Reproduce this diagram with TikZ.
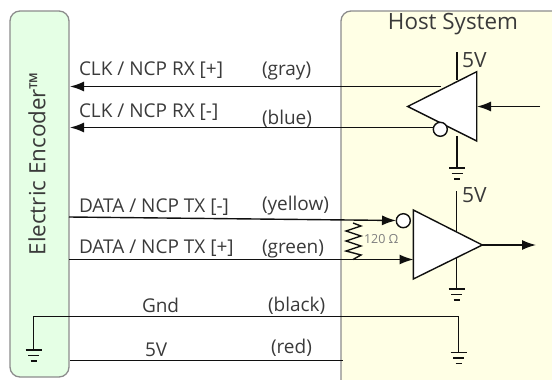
\documentclass[tikz,border=0pt]{standalone}
\usepackage{fontspec}
\setmainfont{Open Sans}
\usetikzlibrary{arrows.meta}
\definecolor{txt}{HTML}{3A3A3A}
\definecolor{wirec}{HTML}{101010}
\definecolor{pane}{HTML}{8C8C8C}
\definecolor{pgreen}{HTML}{E5FFE5}
\definecolor{pyellow}{HTML}{FFFFE5}
\tikzset{
  x=1pt,y=-1pt,
  every node/.style={inner sep=0pt,outer sep=0pt,text=txt},
  lab/.style={anchor=west,font=\fontsize{19}{22}\selectfont},
  wire/.style={draw=wirec,line width=1.4pt},
  arrowed/.style={wire,-{Latex[length=14pt,width=10pt]}},
  gate/.style={draw=wirec,fill=white,line width=1.4pt,line join=miter},
  bubble/.style={circle,draw=wirec,fill=white,line width=1.4pt,minimum size=14pt},
  gndl/.style={draw=wirec,line width=1.4pt},
  panelA/.style={draw=pane,line width=1.3pt,rounded corners=10pt,fill=pgreen},
  panelB/.style={draw=pane,line width=1.3pt,rounded corners=10pt,fill=pyellow},
}
\newcommand{\gndsym}[2]{%
  \draw[gndl] (#1-8,#2) -- (#1+8,#2);
  \draw[gndl] (#1-5.5,#2+5.5) -- (#1+5.5,#2+5.5);
  \draw[gndl] (#1-3,#2+11) -- (#1+3,#2+11);}
\begin{document}
\begin{tikzpicture}
\useasboundingbox (0,0) rectangle (552,380);
\begin{scope}
\clip (0,0) rectangle (552,380);
\draw[panelA] (10,11) rectangle (69,377);
\draw[panelB] (341,11) rectangle (570,395);
\end{scope}

% named points
\coordinate (enctop) at (70,86.5);
\coordinate (encbot) at (70,127.5);
\coordinate (hosttop) at (441,86.5);
\coordinate (hostbot) at (434,127.5);
\coordinate (datam) at (69,217);
\coordinate (datamend) at (396,220.5);
\coordinate (datap) at (69,259.5);
\coordinate (datapend) at (413.5,259.5);
\coordinate (apexb) at (482.3,245);
\coordinate (outb) at (536,245);
\coordinate (ina) at (540,106.5);
\coordinate (inend) at (477,106.5);
\coordinate (gndl) at (33.5,350);
\coordinate (gndc) at (33.5,316.5);
\coordinate (gndr) at (458.5,316.5);
\coordinate (gndq) at (458.5,352.5);
\coordinate (fivel) at (70,360.5);
\coordinate (fiver) at (343,360.5);
\coordinate (va1) at (457,52);
\coordinate (va2) at (457,80);
\coordinate (va3) at (457,136);
\coordinate (va4) at (457,168);
\coordinate (vb1) at (456.5,191);
\coordinate (vb2) at (456.5,232);
\coordinate (vb3) at (456.5,257);
\coordinate (vb4) at (456.5,289);
\coordinate (rtop) at (353,223);
\coordinate (rbot) at (353,259.5);

% wires
\draw[arrowed] (hosttop) -- (enctop);
\draw[arrowed] (hostbot) -- (encbot);
\draw[arrowed] (datam) -- (datamend);
\draw[arrowed] (datap) -- (datapend);
\draw[wire] (va1) -- (va2);
\draw[wire] (va3) -- (va4);
\draw[wire] (vb1) -- (vb2);
\draw[wire] (vb3) -- (vb4);
\draw[wire] (gndl) -- (gndc) -- (gndr) -- (gndq);
\draw[wire] (fivel) -- (fiver);
\draw[wire,line join=miter] (rtop) -- (361,226) -- (346,231) -- (361,236) -- (346,241) -- (361,246) -- (346,251) -- (361,255) -- (rbot);

% gates
\draw[gate] (407.7,106.5) -- (476.7,71.7) -- (476.7,141) -- cycle;
\draw[gate] (413.3,210) -- (482.3,245) -- (413.3,279) -- cycle;
\node[bubble] (bubA) at (440.3,129.3) {};
\node[bubble] (bubB) at (403.3,220.7) {};
\draw[arrowed] (ina) -- (inend);
\draw[arrowed] (apexb) -- (outb);

% grounds
\gndsym{457}{168}
\gndsym{456.5}{289}
\gndsym{458.5}{352.5}
\gndsym{33.5}{350}

% text
\node[rotate=90,font=\fontsize{22.4}{26}\selectfont] (enc) at (37,163.5) {Electric Encoder™};
\node[font=\fontsize{22.4}{26}\selectfont] (host) at (453,24.5) {Host System};
\node[lab] (t1) at (79,70) {CLK / NCP RX [+]};
\node[lab] (t2) at (79,112) {CLK / NCP RX [-]};
\node[lab] (t3) at (79,207.5) {DATA / NCP TX [-]};
\node[lab] (t4) at (79,248.5) {DATA / NCP TX [+]};
\node[lab] (c1) at (262,71) {(gray)};
\node[lab] (c2) at (262,118.5) {(blue)};
\node[lab] (c3) at (262,206) {(yellow)};
\node[lab] (c4) at (262,248.5) {(green)};
\node[lab] (c5) at (268,306) {(black)};
\node[lab] (c6) at (271,348) {(red)};
\node[lab] (g) at (142,305) {Gnd};
\node[lab] (f) at (145,350) {5V};
\node[lab,font=\fontsize{21}{24}\selectfont] (va) at (462,60) {5V};
\node[lab,font=\fontsize{21}{24}\selectfont] (vb) at (462,195) {5V};
\node[anchor=west,font=\fontsize{12.5}{14}\selectfont,text=gray] (res) at (364,239) {120 Ω};
\end{tikzpicture}
\end{document}
